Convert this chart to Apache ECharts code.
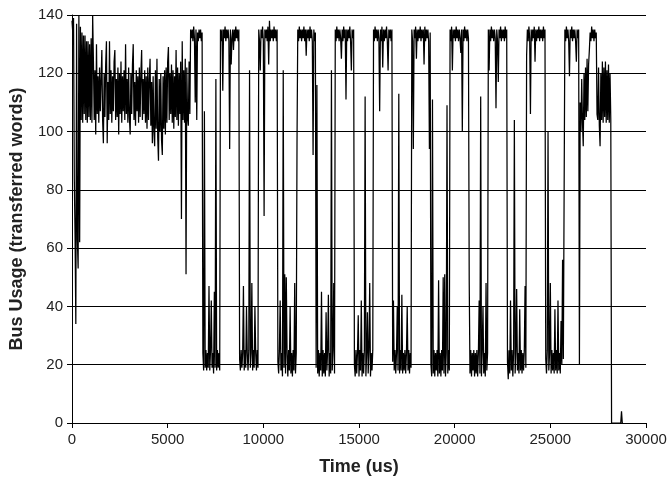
<!DOCTYPE html>
<html>
<head>
<meta charset="utf-8">
<script src="https://cdn.jsdelivr.net/npm/echarts@6/dist/echarts.min.js"></script>
<style>
html,body{margin:0;padding:0;background:#fff;}
#chart{width:669px;height:478px;}
</style>
</head>
<body>
<div id="chart"></div>
<script>
// Bus usage sampled every 40 us; each segment lists samples from its start time (us)
const STEP_US = 40;
const xTicks = [0, 5000, 10000, 15000, 20000, 25000, 30000];
const yTicks = [0, 20, 40, 60, 80, 100, 120, 140];

const startUp = [138,134,139,84,64,34,137,63,53,140,62,136,104,134,103,133,106,133,104,131,103,131,105,130,104,132,103,140];
const idle = [124,104,121,99,130,106,119,103,122,107,
  118,128,104,96,120,105,123,131,96,117,
  104,131,106,121,103,119,107,124,128,104,
  118,105,122,99,120,106,124,103,119,107,
  121,104,130,106,118,103,122,105,99,120,
  106,123,130,104,117,102,121,107,119,103,
  122,105,120,128,104,118,106,121,103,119,
  101,122,104,118,125,102,117,96,119,100,
  95,121,101,125,98,90,118,100,120,97,
  92,119,101,121,99,122,103,124,129,104,
  120,106,123,103,121,101,119,105,128,104,
  122,102,120,106,124,70,131,104,121,103,
  125,51,122,105,102,124,106];
const high0 = [135,132,135,131,136,132,110,135,104,134,131,135,132,135,131,134];
const low1 = [24,18,107,19,25,18,24,19,47,18,25,42,19,24,17,45,19,118,18,25,19,24,18];
const high1 = [135,131,135,114,135,132,136,131,135,132,135,131,94,135,123,132,135,128,135,131,136,132,135,131,135];
const low2 = [22,18,25,19,24,47,18,25,19,40,24,18,25,121,19,24,48,18,25,19,40,24,18,25,19];
const high2 = [135,131,121,135,132,136,131,71,135,132,135,131,136,123,138,131,135,132,135,131,136,132,135,131,135];
const low3 = [21,17,25,42,18,24,16,121,19,51,17,50,24,16,25,18,40,17,24,16,25,18,48,17,24];
const high3 = [96,135,131,136,132,135,131,135,132,136,131,135,126,135,132,135,131,136,132,135,131,92,135,131,134];
const low4 = [19,116,17,25,16,24,18,45,16,25,17,24,16,38,18,25,44,16,24,17,121,18,25,48,17];
const high4 = [135,131,136,132,135,131,135,132,125,135,131,136,132,135,111,135,131,135,132,136,131,121,135,132,135];
const low5 = [20,16,25,17,24,37,16,25,18,42,16,24,17,25,112,16,24,38,17,25,48,16,24,18,25];
const high5 = [135,131,136,132,135,131,135,132,107,135,131,136,122,135,131,135,132,136,131,121,135,132,135,131,135];
const low6 = [21,42,18,25,17,24,40,18,113,17,25,18,44,17,24,18,25,17,24,40,18,25,17,24,19];
const high6 = [135,131,94,135,132,136,125,135,131,135,132,136,131,135,132,135,123,136,131,135,132,135,131,94,134];
const low7 = [20,16,111,17,25,16,24,18,25,16,49,17,24,16,25,18,50,17,51,16,24,109,17,25,18];
const high7 = [135,131,136,121,135,132,135,131,136,132,135,131,135,132,127,135,100,135,131,136,132,135,131,135,132];
const low8 = [49,17,25,16,24,18,25,16,24,17,25,16,24,42,17,112,16,25,40,17,24,16,48,18,24];
const high8 = [135,121,135,131,136,132,135,131,135,132,108,135,131,117,135,132,136,131,135,132,135,131,136,132,135];
const low9 = [21,15,25,17,42,18,25,16,24,104,17,25,46,18,24,17,39,18,25,17,24,18,25,47,19];
const high9 = [126,135,131,136,132,106,135,131,135,132,136,124,135,131,135,132,136,131,135,132,135,131,136,132,135];
const low10 = [22,17,25,100,18,24,48,17,25,18,24,17,39,18,25,17,42,18,24,17,35,20,56,22,78];
const high10 = [135,131,136,132,135,131,119,135,132,136,131,135,132,135,131,124,135,132,135];
const dip = [20];
const noiseA = [110,100,118,103,95,120,104,122,105,125,107,123,128];
const high11 = [134,131,136,132,135,131,135,132,134,106];
const noiseB = [104,122,102,95,120,104,124,103,122,105,124,103,121,104,123,103,120,104];
const stop = [0,0,0,0,0,0,0,0,0,0,0,0,0,4,0,0];

const segmentStarts = [0,1120,6200,6840,7760,8760,9760,10760,11760,12760,13760,14760,15760,16760,17760,18760,19760,20760,21760,22760,23760,24760,25760,26520,26560,27080,27480,28200];
const segmentValues = [startUp,idle,high0,low1,high1,low2,high2,low3,high3,low4,high4,low5,high5,low6,high6,low7,high7,low8,high8,low9,high9,low10,high10,dip,noiseA,high11,noiseB,stop];

const data = [];
segmentStarts.forEach((t0, s) => {
  segmentValues[s].forEach((v, j) => data.push([t0 + j * STEP_US, v]));
});

const FONT = 'Liberation Sans, Arial, sans-serif';
const chart = echarts.init(document.getElementById('chart'), null, {renderer: 'canvas'});
chart.setOption({
  animation: false,
  backgroundColor: '#fff',
  grid: {left: 72, right: 23, top: 15, bottom: 55, outerBoundsMode: 'none', containLabel: false},
  xAxis: {
    type: 'value', min: xTicks[0], max: xTicks[xTicks.length - 1], interval: xTicks[1] - xTicks[0],
    axisLine: {show: true, lineStyle: {color: '#000', width: 1}},
    axisTick: {show: true, length: 5, lineStyle: {color: '#000'}},
    axisLabel: {fontSize: 15, color: '#222', margin: 9, fontFamily: FONT, formatter: v => String(v)},
    splitLine: {show: false},
    name: 'Time (us)', nameLocation: 'middle', nameGap: 35,
    nameTextStyle: {fontSize: 18, fontWeight: 'bold', color: '#222', fontFamily: FONT}
  },
  yAxis: {
    type: 'value', min: yTicks[0], max: yTicks[yTicks.length - 1], interval: yTicks[1] - yTicks[0],
    axisLine: {show: true, lineStyle: {color: '#000', width: 1}},
    axisTick: {show: true, length: 5, lineStyle: {color: '#000'}},
    axisLabel: {fontSize: 15, color: '#222', margin: 9, fontFamily: FONT, formatter: v => String(v)},
    splitLine: {show: true, lineStyle: {color: '#000', width: 1}},
    name: 'Bus Usage (transferred words)', nameLocation: 'middle', nameGap: 46, nameRotate: 90,
    nameTextStyle: {fontSize: 18, fontWeight: 'bold', color: '#222', fontFamily: FONT}
  },
  series: [{
    type: 'line', data: data, showSymbol: false, symbol: 'none',
    lineStyle: {color: '#000', width: 1.25}, sampling: 'none'
  }]
});
</script>
</body>
</html>
